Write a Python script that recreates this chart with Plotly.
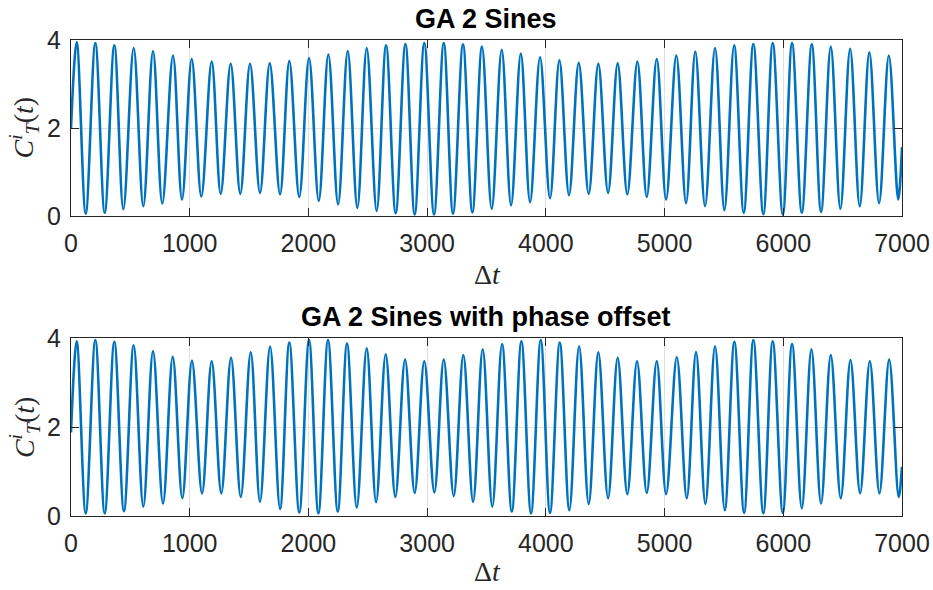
import plotly.graph_objects as go

# ---- data (start, alternating peaks/troughs, end) ----
top_x = [0, 48, 124, 205, 284, 365, 441, 528, 609, 691, 769, 859, 935, 1017, 1098,
         1185, 1261, 1345, 1426, 1508, 1592, 1674, 1761, 1839, 1923, 2005, 2087,
         2168, 2250, 2331, 2412, 2491, 2575, 2654, 2735, 2817, 2895, 2976, 3058,
         3140, 3218, 3302, 3381, 3462, 3544, 3628, 3707, 3789, 3867, 3951, 4035,
         4114, 4195, 4277, 4361, 4442, 4524, 4605, 4686, 4771, 4850, 4934, 5013,
         5099, 5181, 5259, 5341, 5425, 5504, 5586, 5667, 5748, 5832, 5911, 5996,
         6074, 6156, 6240, 6318, 6400, 6481, 6563, 6644, 6725, 6807, 6889, 6968, 7000]
top_y = [2.0, 3.95, 0.06, 3.93, 0.08, 3.88, 0.16, 3.82, 0.23, 3.75, 0.29, 3.65, 0.38,
         3.57, 0.45, 3.51, 0.51, 3.46, 0.51, 3.46, 0.53, 3.47, 0.50, 3.52, 0.44, 3.59,
         0.35, 3.67, 0.27, 3.75, 0.19, 3.82, 0.12, 3.88, 0.07, 3.91, 0.04, 3.93, 0.04,
         3.93, 0.06, 3.90, 0.09, 3.85, 0.17, 3.78, 0.25, 3.69, 0.32, 3.61, 0.41, 3.54,
         0.48, 3.48, 0.51, 3.46, 0.53, 3.47, 0.50, 3.51, 0.44, 3.57, 0.38, 3.65, 0.30,
         3.74, 0.23, 3.82, 0.14, 3.88, 0.08, 3.91, 0.05, 3.93, 0.04, 3.93, 0.08, 3.90,
         0.10, 3.85, 0.17, 3.80, 0.23, 3.72, 0.30, 3.65, 0.38, 1.57]

bot_x = [0, 48, 124, 205, 284, 365, 446, 528, 609, 691, 775, 857, 938, 1019, 1104,
         1185, 1266, 1348, 1430, 1514, 1592, 1677, 1761, 1839, 1923, 2005, 2084,
         2165, 2247, 2325, 2407, 2491, 2570, 2651, 2732, 2814, 2895, 2976, 3061,
         3140, 3224, 3305, 3387, 3468, 3549, 3631, 3713, 3794, 3875, 3957, 4035,
         4117, 4198, 4280, 4361, 4442, 4524, 4605, 4686, 4768, 4850, 4934, 5013,
         5103, 5187, 5265, 5344, 5425, 5507, 5588, 5670, 5748, 5832, 5911, 5996,
         6074, 6156, 6237, 6318, 6400, 6484, 6566, 6647, 6729, 6810, 6892, 6972, 7000]
bot_y = [1.88, 3.93, 0.06, 3.96, 0.06, 3.92, 0.11, 3.84, 0.21, 3.71, 0.28, 3.58, 0.40,
         3.49, 0.51, 3.48, 0.51, 3.56, 0.43, 3.68, 0.32, 3.81, 0.16, 3.90, 0.08, 3.96,
         0.06, 3.96, 0.10, 3.88, 0.19, 3.77, 0.31, 3.64, 0.43, 3.52, 0.52, 3.48, 0.53,
         3.52, 0.45, 3.62, 0.32, 3.75, 0.21, 3.87, 0.10, 3.93, 0.06, 3.96, 0.07, 3.90,
         0.13, 3.82, 0.27, 3.68, 0.40, 3.56, 0.49, 3.48, 0.52, 3.48, 0.49, 3.57, 0.40,
         3.69, 0.27, 3.82, 0.13, 3.92, 0.07, 3.96, 0.06, 3.93, 0.07, 3.87, 0.17, 3.75,
         0.28, 3.62, 0.40, 3.51, 0.51, 3.48, 0.51, 3.52, 0.43, 1.11]

x_ticks = [0, 1000, 2000, 3000, 4000, 5000, 6000, 7000]
y_ticks = [0, 2, 4]
titles = ["GA 2 Sines", "GA 2 Sines with phase offset"]

W, H = 933, 590
L, R, T, B = 71, 902, 39.5, 516   # plot-area pixel box
PW, PH = R - L, B - T
LINE = "#0072BD"
AX = "#262626"


def px(xp):
    return (xp - L) / PW


def py(yp):
    return (B - yp) / PH


def clamp(v):
    return min(1.0, max(0.0, v))


fig = go.Figure()
fig.add_trace(go.Scatter(x=top_x, y=top_y, mode="lines",
                         line=dict(color=LINE, width=2.6, shape="spline", smoothing=1.0),
                         xaxis="x", yaxis="y", showlegend=False))
fig.add_trace(go.Scatter(x=bot_x, y=bot_y, mode="lines",
                         line=dict(color=LINE, width=2.6, shape="spline", smoothing=1.0),
                         xaxis="x2", yaxis="y2", showlegend=False))

tickfont = dict(family="Liberation Sans, Arial, sans-serif", size=25, color=AX)
common_x = dict(range=[0, 7000], tickvals=x_ticks, ticks="inside", ticklen=8, tickcolor=AX,
                showline=True, linecolor=AX, linewidth=1, mirror="ticks", showgrid=True,
                gridcolor="#e0e0e0", gridwidth=1, zeroline=False, tickfont=tickfont,
                domain=[0, 1], automargin=False, ticklabelstandoff=5)
common_y = dict(range=[0, 4], tickvals=y_ticks, ticks="inside", ticklen=8, tickcolor=AX,
                showline=True, linecolor=AX, linewidth=1, mirror="ticks", showgrid=True,
                gridcolor="#e0e0e0", gridwidth=1, zeroline=False, tickfont=tickfont,
                automargin=False, ticklabelstandoff=4)

fig.update_layout(
    width=W, height=H,
    margin=dict(l=L, r=W - R, t=T, b=H - B, autoexpand=False),
    paper_bgcolor="white", plot_bgcolor="white",
    xaxis=dict(**common_x, anchor="y"),
    yaxis=dict(**common_y, domain=[clamp(py(216)), clamp(py(39.5))], anchor="x"),
    xaxis2=dict(**common_x, anchor="y2"),
    yaxis2=dict(**common_y, domain=[clamp(py(516)), clamp(py(338))], anchor="x2"),
)

serif = "Liberation Serif, Times New Roman, serif"
ylab = "<i>C</i><sup><i>i</i></sup><sub><i>T</i></sub>(<i>t</i>)"
xlab = "Δ<i>t</i>"
ann = []
for title, ty, xl_bottom, yl_y in [(titles[0], 18, 292, 128), (titles[1], 317, 589, 428)]:
    ann.append(dict(text="<b>" + title + "</b>", x=px(486), y=py(ty), xref="paper", yref="paper",
                    xanchor="center", yanchor="middle", showarrow=False,
                    font=dict(family="Liberation Sans, Arial, sans-serif", size=27, color="black")))
    ann.append(dict(text=xlab, x=px(487), y=py(xl_bottom), xref="paper", yref="paper",
                    xanchor="center", yanchor="bottom", showarrow=False,
                    font=dict(family=serif, size=28, color=AX)))
    ann.append(dict(text=ylab, x=px(24), y=py(yl_y), xref="paper", yref="paper",
                    xanchor="center", yanchor="middle", showarrow=False, textangle=-90,
                    font=dict(family=serif, size=28, color=AX)))
fig.update_layout(annotations=ann)

fig.write_html("out.html")
